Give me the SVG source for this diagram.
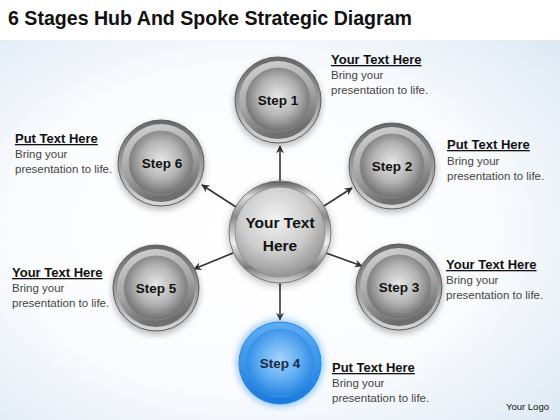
<svg xmlns="http://www.w3.org/2000/svg" width="560" height="420" viewBox="0 0 560 420">
<defs>
<radialGradient id="bg" cx="0.45" cy="0.5" r="0.75">
<stop offset="0" stop-color="#ffffff"/><stop offset="0.55" stop-color="#fbfcfe"/><stop offset="1" stop-color="#dde8f3"/>
</radialGradient>
<linearGradient id="rimG" x1="0" y1="0" x2="0" y2="1">
<stop offset="0" stop-color="#666"/><stop offset="0.5" stop-color="#9a9a9a"/><stop offset="1" stop-color="#d8d8d8"/>
</linearGradient>
<linearGradient id="bevG" x1="0" y1="0" x2="0.3" y2="1">
<stop offset="0" stop-color="#d6d6d6"/><stop offset="0.6" stop-color="#a4a4a4"/><stop offset="1" stop-color="#6e6e6e"/>
</linearGradient>
<radialGradient id="discG" cx="0.5" cy="0.45" r="0.55">
<stop offset="0" stop-color="#e6e6e6"/><stop offset="0.55" stop-color="#b4b4b4"/><stop offset="1" stop-color="#6e6e6e"/>
</radialGradient>
<linearGradient id="chromeG" x1="0" y1="0" x2="0" y2="1">
<stop offset="0" stop-color="#5a5a5a"/><stop offset="0.15" stop-color="#dcdcdc"/><stop offset="0.35" stop-color="#8a8a8a"/><stop offset="0.6" stop-color="#f0f0f0"/><stop offset="0.85" stop-color="#7c7c7c"/><stop offset="1" stop-color="#d8d8d8"/>
</linearGradient>
<radialGradient id="hubG" cx="0.45" cy="0.35" r="0.65">
<stop offset="0" stop-color="#f2f2f2"/><stop offset="0.6" stop-color="#cbcbcb"/><stop offset="1" stop-color="#949494"/>
</radialGradient>
<linearGradient id="bRimG" x1="0" y1="0" x2="0" y2="1">
<stop offset="0" stop-color="#5eaef5"/><stop offset="1" stop-color="#1a78dc"/>
</linearGradient>
<radialGradient id="bDiscG" cx="0.5" cy="0.45" r="0.55">
<stop offset="0" stop-color="#a6d4fb"/><stop offset="0.6" stop-color="#5aa9f1"/><stop offset="1" stop-color="#2482e0"/>
</radialGradient>
<filter id="blur" x="-30%" y="-30%" width="160%" height="160%"><feGaussianBlur stdDeviation="3"/></filter>
<marker id="arr" viewBox="0 0 10 10" refX="9" refY="5" markerWidth="8" markerHeight="8" markerUnits="userSpaceOnUse" orient="auto">
<path d="M0,0 L10,5 L0,10 L3,5 Z" fill="#333"/>
</marker>
<g id="gnode">
<circle cx="0" cy="3" r="44" fill="#000" opacity="0.25" filter="url(#blur)"/>
<circle r="43" fill="url(#rimG)" stroke="#5e5e5e" stroke-width="1"/>
<circle r="39" fill="url(#bevG)"/>
<circle r="32" fill="url(#discG)" stroke="#8a8a8a" stroke-width="0.8"/>
</g>
</defs>
<style>
.t{font-family:"Liberation Sans",Arial,sans-serif;fill:#111}
.h{font-size:13px;font-weight:bold;text-decoration:underline}
.b{font-size:11.5px;fill:#444}
.s{font-size:13.5px;font-weight:bold;text-anchor:middle}
.ln{stroke:#333;stroke-width:1.6;fill:none;marker-end:url(#arr)}
</style>
<rect width="560" height="420" fill="#ffffff"/>
<rect y="40" width="560" height="380" fill="url(#bg)"/>
<text class="t" x="8" y="25" font-size="21" font-weight="bold" textLength="404" lengthAdjust="spacingAndGlyphs">6 Stages Hub And Spoke Strategic Diagram</text>

<g id="connectors">
<line class="ln" x1="280" y1="181" x2="280" y2="146"/>
<line class="ln" x1="324" y1="206" x2="352" y2="188"/>
<line class="ln" x1="326" y1="253" x2="362" y2="266"/>
<line class="ln" x1="280" y1="283" x2="280" y2="320"/>
<line class="ln" x1="233" y1="253" x2="194" y2="269"/>
<line class="ln" x1="236" y1="207" x2="202" y2="185"/>
</g>

<g id="hub">
<circle cx="280" cy="234" r="53" fill="#000" opacity="0.2" filter="url(#blur)"/>
<circle cx="280" cy="232" r="51" fill="url(#chromeG)" stroke="#777" stroke-width="1"/>
<circle cx="280" cy="232" r="45" fill="url(#hubG)" stroke="#8a8a8a" stroke-width="0.8"/>
<text class="t s" x="280" y="228" style="font-size:15.5px">Your Text</text>
<text class="t s" x="280" y="251" style="font-size:15.5px">Here</text>
</g>

<g id="step1">
<use href="#gnode" x="278" y="100"/>
<text class="t s" x="278" y="105">Step 1</text>
<text class="t h" x="331" y="64">Your Text Here</text>
<text class="t b" x="331" y="79">Bring your</text>
<text class="t b" x="331" y="94">presentation to life.</text>
</g>

<g id="step2">
<use href="#gnode" x="392" y="166"/>
<text class="t s" x="392" y="171">Step 2</text>
<text class="t h" x="447" y="149">Put Text Here</text>
<text class="t b" x="447" y="165">Bring your</text>
<text class="t b" x="447" y="180">presentation to life.</text>
</g>

<g id="step3">
<use href="#gnode" x="399" y="287"/>
<text class="t s" x="399" y="292">Step 3</text>
<text class="t h" x="446" y="269">Your Text Here</text>
<text class="t b" x="446" y="284">Bring your</text>
<text class="t b" x="446" y="299">presentation to life.</text>
</g>

<g id="step4">
<circle cx="280" cy="363" r="44" fill="#4aa6f5" opacity="0.55" filter="url(#blur)"/>
<circle cx="280" cy="363" r="41" fill="url(#bRimG)" stroke="#2a86dd" stroke-width="1"/>
<circle cx="280" cy="363" r="34" fill="url(#bDiscG)" stroke="#3f95e6" stroke-width="0.8"/>
<text class="t s" x="280" y="368" style="fill:#1a2a4a">Step 4</text>
<text class="t h" x="332" y="372">Put Text Here</text>
<text class="t b" x="332" y="387">Bring your</text>
<text class="t b" x="332" y="402">presentation to life.</text>
</g>

<g id="step5">
<use href="#gnode" x="156" y="288"/>
<text class="t s" x="156" y="293">Step 5</text>
<text class="t h" x="12" y="277">Your Text Here</text>
<text class="t b" x="12" y="292">Bring your</text>
<text class="t b" x="12" y="307">presentation to life.</text>
</g>

<g id="step6">
<use href="#gnode" x="161" y="163"/>
<text class="t s" x="162" y="168">Step 6</text>
<text class="t h" x="15" y="143">Put Text Here</text>
<text class="t b" x="15" y="158">Bring your</text>
<text class="t b" x="15" y="173">presentation to life.</text>
</g>

<text class="t" x="506" y="410" font-size="9.5" fill="#333">Your Logo</text>
</svg>
